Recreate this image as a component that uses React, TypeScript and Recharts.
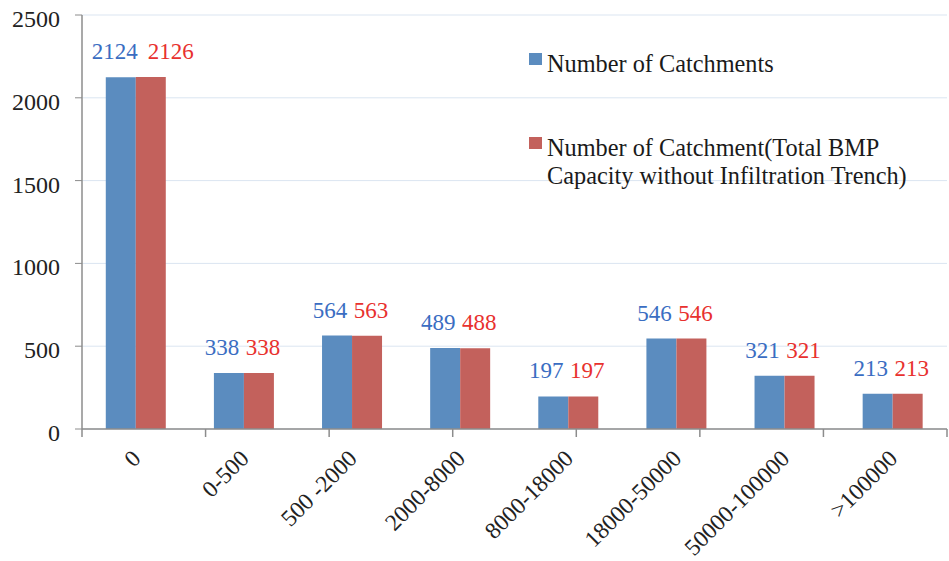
import {
    BarChart,
    Bar,
    XAxis,
    YAxis,
    CartesianGrid,
    Legend,
    LabelList,
} from "recharts";

const categories = [
    "0",
    "0-500",
    "500 -2000",
    "2000-8000",
    "8000-18000",
    "18000-50000",
    "50000-100000",
    ">100000",
];
const catchments = [2124, 338, 564, 489, 197, 546, 321, 213];
const catchmentsNoTrench = [2126, 338, 563, 488, 197, 546, 321, 213];
const yTicks = [0, 500, 1000, 1500, 2000, 2500];
const bandEdges = [0, 1, 2, 3, 4, 5, 6, 7];

const FONT = "Liberation Serif, DejaVu Serif, Times New Roman, serif";
const BLUE = "#5b8cbf";
const RED = "#c3615c";
const BLUE_TEXT = "#3a6dc2";
const RED_TEXT = "#e8312e";
const AXIS = "#8c8c8c";

const data = categories.map((range, i) => ({
    range,
    catchments: catchments[i],
    noTrench: catchmentsNoTrench[i],
}));

function YTick({ x, y, payload }: any) {
    return (
        <text x={x} y={y} dy={12} textAnchor="end" style={{ fontFamily: FONT }} fontSize={24} fill="#222">
            {payload.value}
        </text>
    );
}

function XTick({ x, y, payload }: any) {
    return (
        <g transform={`translate(${x + 6},${y + 30})`}>
            <text textAnchor="end" transform="rotate(-45)" style={{ fontFamily: FONT }} fontSize={23.5} fill="#222">
                {payload.value}
            </text>
        </g>
    );
}

const NoLabel = () => <g />;

const valueLabel = (color: string, dx: number) => (props: any) => {
    const { x, y, width, value, index } = props;
    // the first pair sits wide apart in the original
    const shift = index === 0 ? (dx < 0 ? -6 : 20) : dx;
    return (
        <text
            x={x + width / 2 + shift}
            y={y - 18}
            textAnchor="middle"
            style={{ fontFamily: FONT }}
            fontSize={23}
            fill={color}
        >
            {value}
        </text>
    );
};

function ChartLegend() {
    const row = { display: "flex", alignItems: "flex-start" } as const;
    const sq = (c: string) => ({
        width: 13,
        height: 12,
        background: c,
        marginTop: 3,
        marginRight: 5,
        flex: "none",
    });
    return (
        <div style={{ fontFamily: FONT, fontSize: 24.3, lineHeight: "28px", color: "#1a1a1a" }}>
            <div style={row}>
                <div style={sq(BLUE)} />
                <div>Number of Catchments</div>
            </div>
            <div style={{ ...row, marginTop: 56 }}>
                <div style={sq(RED)} />
                <div>
                    Number of Catchment(Total BMP
                    <br />
                    Capacity without Infiltration Trench)
                </div>
            </div>
        </div>
    );
}

export default function App() {
    return (
        <div style={{ position: "absolute", left: 0, top: 0, background: "#fff" }}>
            <BarChart
                width={949}
                height={561}
                data={data}
                margin={{ top: 15, right: 2, bottom: 0, left: 0 }}
                barCategoryGap="22%"
                barGap={0}
            >
                <CartesianGrid vertical={false} stroke="#dbe5f1" />
                <XAxis
                    xAxisId={0}
                    type="number"
                    domain={[0, 8]}
                    ticks={bandEdges}
                    allowDataOverflow
                    tick={<NoLabel />}
                    tickSize={8}
                    tickLine={{ stroke: AXIS, strokeWidth: 1.5 }}
                    axisLine={{ stroke: AXIS, strokeWidth: 1.5 }}
                    height={1}
                />
                <XAxis
                    xAxisId={1}
                    dataKey="range"
                    interval={0}
                    tick={<XTick />}
                    tickLine={false}
                    axisLine={false}
                    tickSize={0}
                    tickMargin={0}
                    height={131}
                />
                <YAxis
                    domain={[0, 2500]}
                    ticks={yTicks}
                    width={82}
                    tick={<YTick />}
                    tickSize={7}
                    tickMargin={15}
                    tickLine={{ stroke: AXIS }}
                    axisLine={{ stroke: AXIS, strokeWidth: 1.5 }}
                />
                <Legend
                    layout="vertical"
                    align="center"
                    verticalAlign="middle"
                    content={<ChartLegend />}
                    wrapperStyle={{ left: 529, top: 50, width: 415 }}
                />
                <Bar
                    xAxisId={1}
                    dataKey="catchments"
                    name="Number of Catchments"
                    fill={BLUE}
                    isAnimationActive={false}
                >
                    <LabelList dataKey="catchments" content={valueLabel(BLUE_TEXT, -7)} />
                </Bar>
                <Bar
                    xAxisId={1}
                    dataKey="noTrench"
                    name="Number of Catchment(Total BMP Capacity without Infiltration Trench)"
                    fill={RED}
                    isAnimationActive={false}
                >
                    <LabelList dataKey="noTrench" content={valueLabel(RED_TEXT, 4)} />
                </Bar>
            </BarChart>
        </div>
    );
}
